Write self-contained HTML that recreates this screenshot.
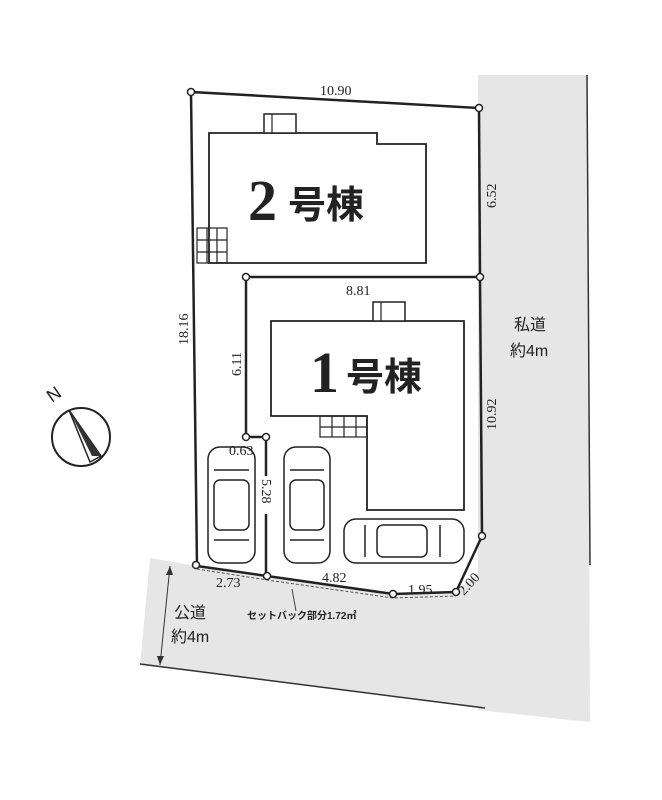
<!DOCTYPE html>
<html><head><meta charset="utf-8"><style>
html,body{margin:0;padding:0;background:#fff;}
svg{display:block;}
text{font-family:"Liberation Serif","Noto Serif CJK SC",serif;fill:#222;}
.j{font-family:"Liberation Sans","Noto Sans CJK JP",sans-serif;}
</style></head><body>
<svg width="662" height="800" viewBox="0 0 662 800" xmlns="http://www.w3.org/2000/svg">
<polygon points="478,75 587,75 590,722 478,710" fill="#e6e6e6"/>
<polygon points="150,558 197,566 267,576 393,594 456,592 482,570 482,710 590,722 140,665" fill="#e6e6e6"/>
<line x1="587" y1="75" x2="590" y2="565" stroke="#333" stroke-width="1.5"/>
<line x1="140" y1="664" x2="485" y2="708" stroke="#333" stroke-width="1.5"/>
<polyline points="197,569 267,580 393,598 456,596" fill="none" stroke="#555" stroke-width="1" stroke-dasharray="3,2"/>
<polyline points="197,566 191,92 479,108 480,277 482,536 456,592 393,594 267,576 197,566" fill="none" stroke="#222" stroke-width="2.5"/>
<polyline points="480,277 246,277 246,437 266,437 266,576" fill="none" stroke="#222" stroke-width="2.5"/>
<polygon points="209,133 377,133 377,144 426,144 426,263 209,263" fill="#fff" stroke="#222" stroke-width="1.8"/>
<rect x="264" y="114" width="32" height="19" fill="#fff" stroke="#222" stroke-width="1.5"/>
<line x1="272" y1="114" x2="272" y2="133" stroke="#222" stroke-width="1.2"/>
<g stroke="#222" stroke-width="1.2" fill="none"><rect x="197" y="228" width="30" height="35"/><line x1="207" y1="228" x2="207" y2="263"/><line x1="217" y1="228" x2="217" y2="263"/><line x1="197" y1="240" x2="227" y2="240"/><line x1="197" y1="252" x2="227" y2="252"/></g>
<polygon points="271,321 464,321 464,510 367,510 367,416 271,416" fill="#fff" stroke="#222" stroke-width="1.8"/>
<rect x="373" y="302" width="32" height="19" fill="#fff" stroke="#222" stroke-width="1.5"/>
<line x1="381" y1="302" x2="381" y2="321" stroke="#222" stroke-width="1.2"/>
<g stroke="#222" stroke-width="1.2" fill="none"><rect x="320" y="416" width="47" height="21"/><line x1="332" y1="416" x2="332" y2="437"/><line x1="344" y1="416" x2="344" y2="437"/><line x1="356" y1="416" x2="356" y2="437"/><line x1="320" y1="427" x2="367" y2="427"/></g>
<text x="248" y="220" font-size="58" font-weight="bold" fill="#333">2</text><text x="288" y="218" font-size="38" class="j" font-weight="bold" fill="#333">号棟</text>
<text x="310" y="392" font-size="58" font-weight="bold" fill="#333">1</text><text x="346" y="390" font-size="38" class="j" font-weight="bold" fill="#333">号棟</text>
<g fill="none" stroke="#222" stroke-width="1.5">
<rect x="208" y="447" width="47" height="116" rx="12"/><rect x="214" y="480" width="35" height="50" rx="6"/><line x1="214" y1="470" x2="249" y2="470"/><line x1="214" y1="540" x2="249" y2="540"/>
<rect x="284" y="447" width="46" height="116" rx="12"/><rect x="290" y="480" width="34" height="50" rx="6"/><line x1="290" y1="470" x2="324" y2="470"/><line x1="290" y1="540" x2="324" y2="540"/>
<rect x="344" y="519" width="120" height="44" rx="12"/><rect x="377" y="525" width="50" height="32" rx="6"/><line x1="365" y1="525" x2="365" y2="557"/><line x1="440" y1="525" x2="440" y2="557"/>
</g>
<g fill="#fff" stroke="#222" stroke-width="1.5">
<circle cx="191" cy="92" r="3.5"/><circle cx="479" cy="108" r="3.5"/><circle cx="480" cy="277" r="3.5"/><circle cx="246" cy="277" r="3.5"/>
<circle cx="246" cy="437" r="3.5"/><circle cx="266" cy="437" r="3.5"/><circle cx="482" cy="536" r="3.5"/><circle cx="456" cy="592" r="3.5"/>
<circle cx="393" cy="594" r="3.5"/><circle cx="267" cy="576" r="3.5"/><circle cx="196" cy="565" r="3.5"/>
</g>
<rect x="259" y="476" width="15" height="38" fill="#fff"/>
<g font-size="14">
<text x="320" y="95">10.90</text>
<text x="346" y="295">8.81</text>
<text transform="translate(496,208) rotate(-90)">6.52</text>
<text transform="translate(496,430) rotate(-90)">10.92</text>
<text transform="translate(188,345) rotate(-90)">18.16</text>
<text transform="translate(241,376) rotate(-90)">6.11</text>
<text transform="translate(262,479) rotate(90)">5.28</text>
<text x="229" y="455">0.63</text>
<text x="216" y="587">2.73</text>
<text x="322" y="582">4.82</text>
<text x="408" y="594">1.95</text>
<text transform="translate(464,596) rotate(-48)">2.00</text>
</g>
<text x="247" y="619" font-size="10" class="j" font-weight="bold" fill="#444">セットバック部分1.72㎡</text>
<line x1="292" y1="589" x2="296" y2="611" stroke="#444" stroke-width="1"/>
<g font-size="16">
<text x="174" y="618" class="j" fill="#333">公道</text><text x="171" y="642" class="j" fill="#333">約4m</text>
<text x="514" y="330" class="j" fill="#333">私道</text><text x="510" y="356" class="j" fill="#333">約4m</text>
</g>
<line x1="170" y1="566" x2="160" y2="665" stroke="#333" stroke-width="1"/>
<polygon points="170,566 166,575 173,575" fill="#333"/><polygon points="160,665 157,656 164,656" fill="#333"/>
<circle cx="81" cy="437" r="29" fill="#fff" stroke="#222" stroke-width="2"/>
<polygon points="69,410 101,456 90,462" fill="#fff" stroke="#222" stroke-width="1.5"/>
<polygon points="69,410 101,456 92,456" fill="#333"/>
<text transform="translate(52,403) rotate(-35)" font-size="18" class="j">N</text>
</svg>
</body></html>
